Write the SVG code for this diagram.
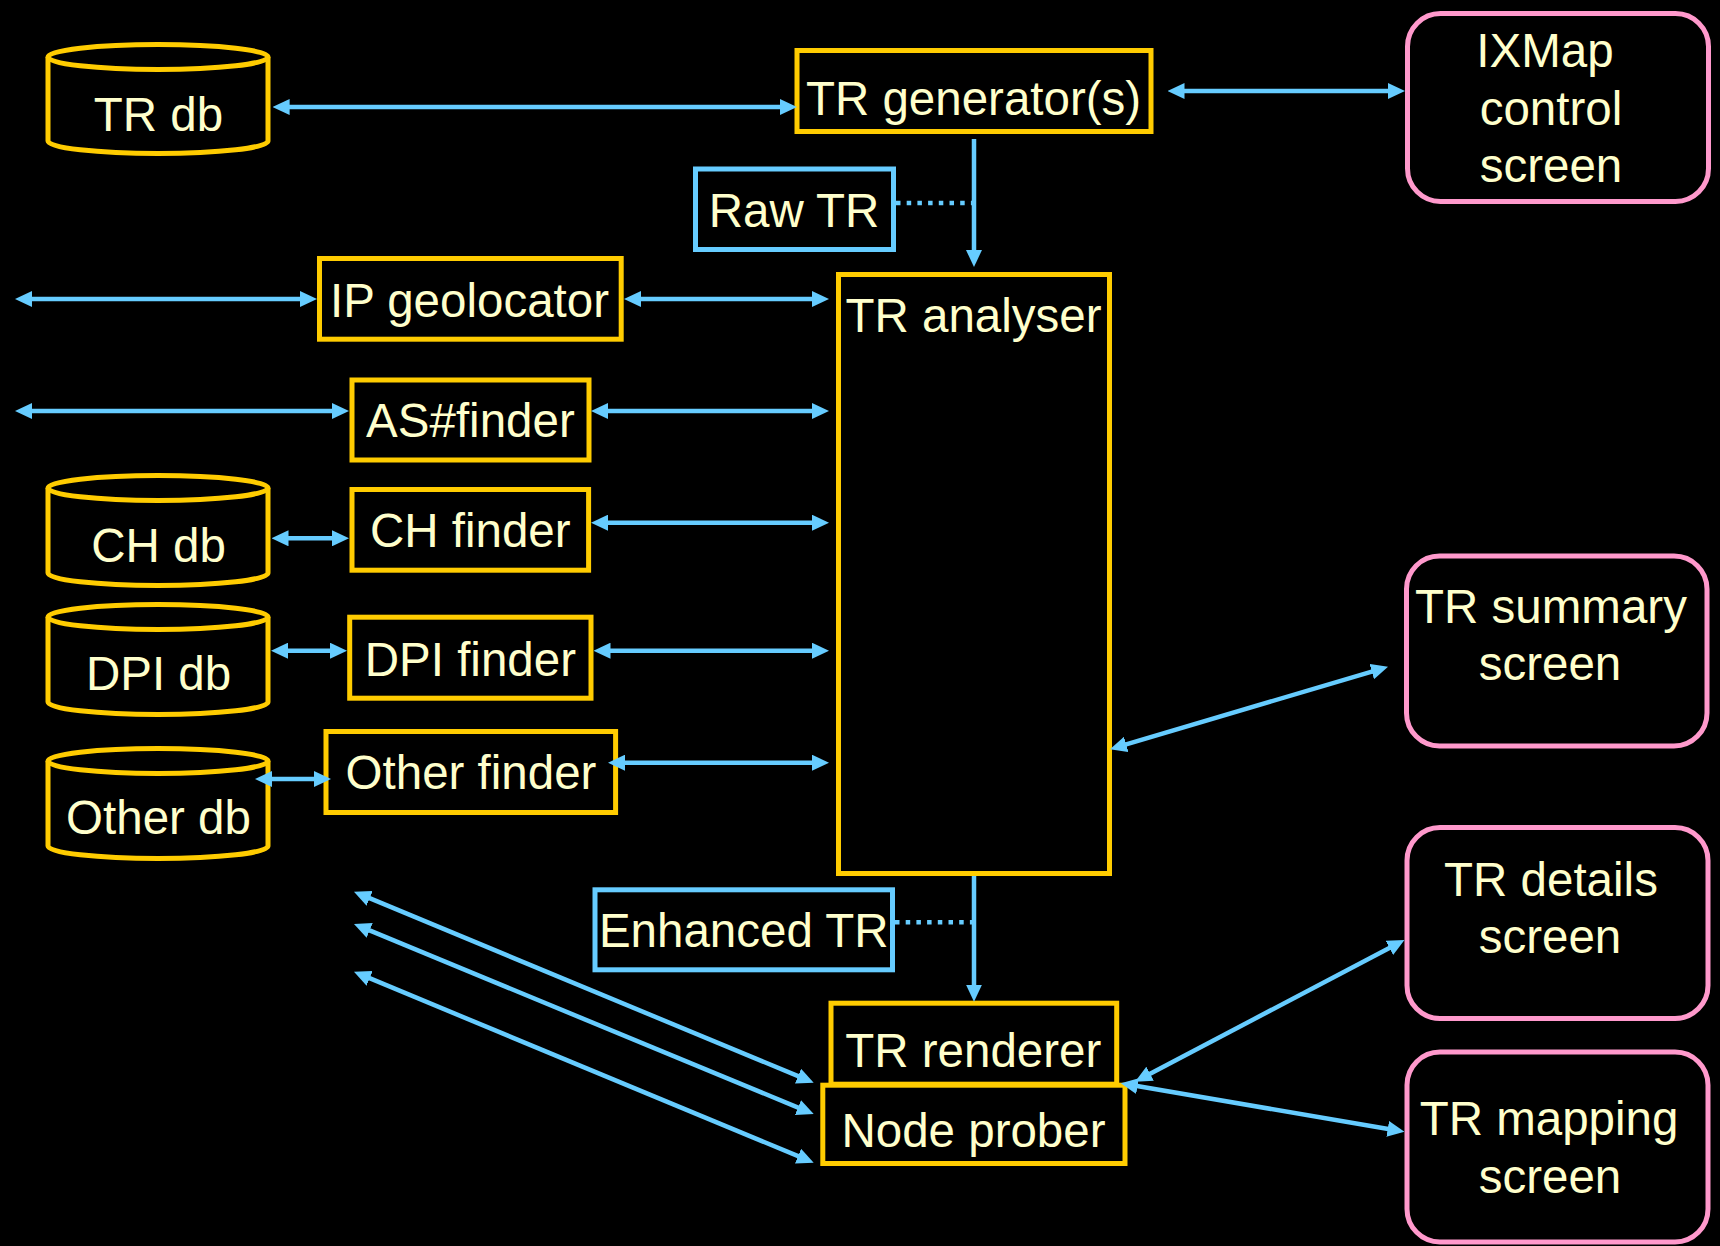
<svg xmlns="http://www.w3.org/2000/svg" width="1720" height="1246" viewBox="0 0 1720 1246">
  <style>
    .box { fill: #000; stroke: #FFCC00; stroke-width: 5; }
    .db { fill: #000; stroke: #FFCC00; stroke-width: 5; }
    .data { fill: #000; stroke: #66CCFF; stroke-width: 5; }
    .screen { fill: #000; stroke: #FF99CC; stroke-width: 5; }
    .lbl { fill: #FFFFCC; font-family: "Liberation Sans", Arial, sans-serif; font-size: 47.5px; text-anchor: middle; }
    .link { stroke: #66CCFF; stroke-width: 4.5; fill: none; }
    .both { marker-start: url(#head); marker-end: url(#head); }
    .one { marker-end: url(#head); }
    .dots { stroke: #66CCFF; stroke-width: 4.5; stroke-dasharray: 4.5 6.2; fill: none; }
  </style>
  <defs>
    <marker id="head" viewBox="0 0 17 16" markerWidth="17" markerHeight="16" refX="8" refY="8" markerUnits="userSpaceOnUse" orient="auto-start-reverse">
      <path d="M0,0 L17,8 L0,16 z" fill="#66CCFF"/>
    </marker>
  </defs>

  <rect width="1720" height="1246" fill="#000"/>

  <!-- databases -->
  <g id="tr-db">
    <path class="db" d="M48,57 L48,141 A110,12.5 0 0 0 268,141 L268,57"/>
    <ellipse class="db" cx="158" cy="57" rx="110" ry="12.5"/>
    <text class="lbl" x="158.5" y="130.7">TR db</text>
  </g>
  <g id="ch-db">
    <path class="db" d="M48,488 L48,573 A110,12.5 0 0 0 268,573 L268,488"/>
    <ellipse class="db" cx="158" cy="488" rx="110" ry="12.5"/>
    <text class="lbl" x="158.5" y="561.7">CH db</text>
  </g>
  <g id="dpi-db">
    <path class="db" d="M48,617 L48,702 A110,12.5 0 0 0 268,702 L268,617"/>
    <ellipse class="db" cx="158" cy="617" rx="110" ry="12.5"/>
    <text class="lbl" x="158.5" y="690">DPI db</text>
  </g>
  <g id="other-db">
    <path class="db" d="M48,761 L48,846 A110,12.5 0 0 0 268,846 L268,761"/>
    <ellipse class="db" cx="158" cy="761" rx="110" ry="12.5"/>
    <text class="lbl" x="158.5" y="834">Other db</text>
  </g>

  <!-- processing stages -->
  <g id="tr-generator">
    <rect class="box" x="797" y="50.5" width="354" height="81"/>
    <text class="lbl" x="973.5" y="115">TR generator(s)</text>
  </g>
  <g id="raw-tr">
    <rect class="data" x="695.5" y="169" width="198" height="80.5"/>
    <text class="lbl" x="794" y="227">Raw TR</text>
  </g>
  <g id="ip-geolocator">
    <rect class="box" x="319.5" y="258.5" width="301.7" height="80.7"/>
    <text class="lbl" x="469.5" y="317.3">IP geolocator</text>
  </g>
  <g id="as-finder">
    <rect class="box" x="352" y="380" width="237" height="80"/>
    <text class="lbl" x="470.4" y="436.7">AS#finder</text>
  </g>
  <g id="ch-finder">
    <rect class="box" x="352" y="489.5" width="236.6" height="80.7"/>
    <text class="lbl" x="470.3" y="546.7">CH finder</text>
  </g>
  <g id="dpi-finder">
    <rect class="box" x="349.7" y="617.2" width="241.3" height="81"/>
    <text class="lbl" x="470.4" y="675.7">DPI finder</text>
  </g>
  <g id="other-finder">
    <rect class="box" x="326" y="731.5" width="289.6" height="81"/>
    <text class="lbl" x="471" y="789">Other finder</text>
  </g>
  <g id="tr-analyser">
    <rect class="box" x="838.5" y="274.5" width="271" height="599"/>
    <text class="lbl" x="973.5" y="332">TR analyser</text>
  </g>
  <g id="enhanced-tr">
    <rect class="data" x="595" y="889.8" width="297.5" height="80"/>
    <text class="lbl" x="743.7" y="947.3">Enhanced TR</text>
  </g>
  <g id="node-prober">
    <rect class="box" x="822.8" y="1085.2" width="302.2" height="78.3"/>
    <text class="lbl" x="973.5" y="1146.7">Node prober</text>
  </g>
  <g id="tr-renderer">
    <rect class="box" x="831" y="1003.2" width="285.7" height="81"/>
    <text class="lbl" x="973.3" y="1066.7">TR renderer</text>
  </g>

  <!-- user screens -->
  <g id="ixmap-control-screen">
    <rect class="screen" x="1407.5" y="13.5" width="301" height="188" rx="33"/>
    <text class="lbl" x="1545" y="66.7">IXMap</text>
    <text class="lbl" x="1551" y="125">control</text>
    <text class="lbl" x="1551" y="182">screen</text>
  </g>
  <g id="tr-summary-screen">
    <rect class="screen" x="1406.5" y="556" width="300.5" height="190" rx="33"/>
    <text class="lbl" x="1551" y="623.3">TR summary</text>
    <text class="lbl" x="1550" y="680">screen</text>
  </g>
  <g id="tr-details-screen">
    <rect class="screen" x="1407" y="827.5" width="301" height="191" rx="33"/>
    <text class="lbl" x="1551" y="895.7">TR details</text>
    <text class="lbl" x="1550" y="953.3">screen</text>
  </g>
  <g id="tr-mapping-screen">
    <rect class="screen" x="1407" y="1052" width="301" height="190" rx="33"/>
    <text class="lbl" x="1549" y="1135">TR mapping</text>
    <text class="lbl" x="1550" y="1193.3">screen</text>
  </g>

  <!-- connectors -->
  <g id="connectors">
    <line class="link both" x1="281.6" y1="107" x2="788" y2="107"/>
    <line class="link both" x1="1176.5" y1="91" x2="1396" y2="91"/>
    <line class="link one" x1="974" y1="139" x2="974" y2="258"/>
    <line class="dots" x1="896" y1="203" x2="972" y2="203"/>

    <line class="link both" x1="24" y1="299" x2="308" y2="299"/>
    <line class="link both" x1="633" y1="299" x2="820" y2="299"/>
    <line class="link both" x1="24" y1="411" x2="340" y2="411"/>
    <line class="link both" x1="600" y1="411" x2="820" y2="411"/>
    <line class="link both" x1="280.5" y1="538.3" x2="340" y2="538.3"/>
    <line class="link both" x1="600" y1="522.7" x2="820" y2="522.7"/>
    <line class="link both" x1="280" y1="650.7" x2="338" y2="650.7"/>
    <line class="link both" x1="602.5" y1="650.7" x2="820" y2="650.7"/>
    <line class="link both" x1="264" y1="779" x2="322" y2="779"/>
    <line class="link both" x1="617" y1="762.7" x2="820" y2="762.7"/>

    <line class="link both" x1="1118.6" y1="746.7" x2="1379.4" y2="669.3"/>

    <line class="link one" x1="974" y1="876" x2="974" y2="992.7"/>
    <line class="dots" x1="895" y1="922.3" x2="972" y2="922.3"/>

    <line class="link both" x1="362.3" y1="895.2" x2="805.4" y2="1079.2"/>
    <line class="link both" x1="362.3" y1="927.4" x2="805.4" y2="1110.6"/>
    <line class="link both" x1="362.3" y1="975.2" x2="805.4" y2="1159.2"/>

    <line class="link both" x1="1143" y1="1077.5" x2="1396.5" y2="944.2"/>
    <line class="link both" x1="1129.7" y1="1084.8" x2="1395.6" y2="1130.2"/>
  </g>
</svg>
